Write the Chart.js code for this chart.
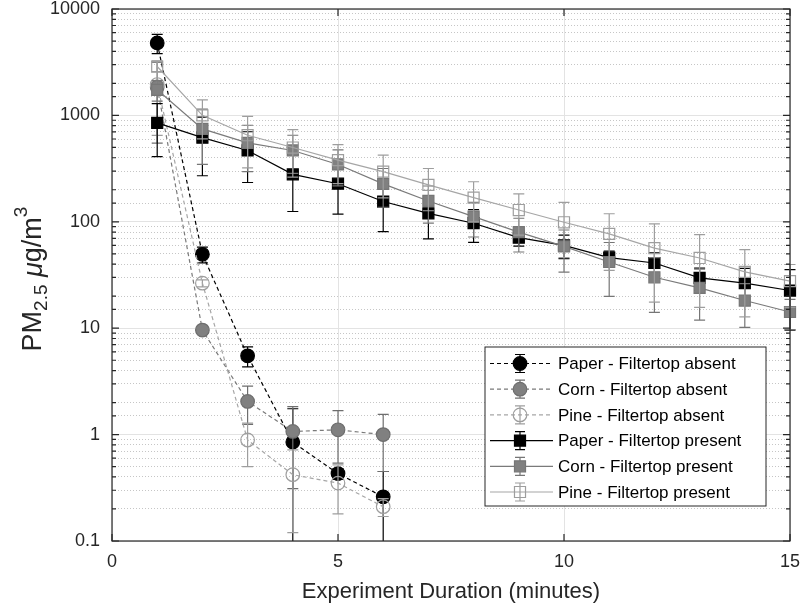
<!DOCTYPE html>
<html>
<head>
<meta charset="utf-8">
<script src="https://cdn.jsdelivr.net/npm/chart.js@4.4.1/dist/chart.umd.min.js"></script>
<style>
  html, body { margin: 0; padding: 0; background: #fff; }
</style>
</head>
<body>
<canvas id="pmChart" width="800" height="606"></canvas>
<script>
// Experiment duration (minutes)
var minutesAbsent = [1, 2, 3, 4, 5, 6];
var minutesPresent = [1, 2, 3, 4, 5, 6, 7, 8, 9, 10, 11, 12, 13, 14, 15];

// PM2.5 (ug/m3) means and standard deviations, filtertop absent
var paperAbsent   = [4800, 49.5, 5.5, 0.85, 0.43, 0.26];
var paperAbsentSd = [985, 8.4, 1.17, 0.9, 0.05, 0.19];
var cornAbsent    = [1850, 9.6, 2.05, 1.07, 1.11, 1.0];
var cornAbsentSd  = [1300, 0.6, 0.8, 0.76, 0.57, 0.55];
var pineAbsent    = [1950, 26.5, 0.89, 0.42, 0.35, 0.21];
var pineAbsentSd  = [1300, 2.0, 0.39, 0.30, 0.17, 0.04];

// filtertop present
var paperPresent   = [850, 618, 468, 279, 228, 155, 120, 97, 71, 60, 46, 41, 29.7, 26.5, 22.6];
var paperPresentSd = [440, 347, 234, 154, 110, 74, 51, 33, 12, 15, 7, 10, 7, 10, 13];
var cornPresent    = [1740, 746, 552, 468, 346, 227, 157, 112, 80, 58.7, 41.9, 30.1, 23.9, 18.2, 14.2];
var cornPresentSd  = [380, 400, 256, 183, 128, 90, 60, 40, 28, 25, 22, 16, 12, 8, 4.5];
var pinePresent    = [2880, 1002, 651, 499, 380, 296, 222, 169, 129, 99, 77, 56.6, 45.7, 33.8, 27.7];
var pinePresentSd  = [300, 400, 330, 236, 152, 128, 95, 69, 54, 53, 42, 39, 30, 21, 12];

var seriesNames = [
  'Paper - Filtertop absent', 'Corn - Filtertop absent', 'Pine - Filtertop absent',
  'Paper - Filtertop present', 'Corn - Filtertop present', 'Pine - Filtertop present'
];

// tick labels
var yTickLabels = [0.1, 1, 10, 100, 1000, 10000];
var xTickLabels = [0, 5, 10, 15];

var fontFam = '"Liberation Sans", Arial, Helvetica, sans-serif';
var axisColor = '#262626';

function isDecade(v) {
  return yTickLabels.some(function (d) { return Math.abs(v - d) / d < 1e-6; });
}

function toPoints(xs, ys) {
  return xs.map(function (x, i) { return { x: x, y: ys[i] }; });
}

function makeSeries(idx, xs, ys, sd, style) {
  return {
    label: seriesNames[idx],
    data: toPoints(xs, ys),
    errors: sd,
    errorColor: style.edge,
    borderColor: style.line,
    borderWidth: 1.2,
    borderDash: style.dash,
    backgroundColor: style.fill,
    pointStyle: style.marker,
    pointRadius: style.marker === 'rect' ? 7.8 : 6.8,
    pointBackgroundColor: style.fill,
    pointBorderColor: style.edge,
    pointBorderWidth: 1.2,
    tension: 0,
    clip: false,
    order: 5 - idx
  };
}

var DASH = [4, 3];
var datasets = [
  makeSeries(0, minutesAbsent, paperAbsent, paperAbsentSd, { line: '#000000', edge: '#000000', fill: '#000000', marker: 'circle', dash: DASH }),
  makeSeries(1, minutesAbsent, cornAbsent, cornAbsentSd, { line: '#7a7a7a', edge: '#6e6e6e', fill: '#808080', marker: 'circle', dash: DASH }),
  makeSeries(2, minutesAbsent, pineAbsent, pineAbsentSd, { line: '#a6a6a6', edge: '#9e9e9e', fill: 'rgba(255,255,255,0)', marker: 'circle', dash: DASH }),
  makeSeries(3, minutesPresent, paperPresent, paperPresentSd, { line: '#000000', edge: '#000000', fill: '#000000', marker: 'rect', dash: [] }),
  makeSeries(4, minutesPresent, cornPresent, cornPresentSd, { line: '#7a7a7a', edge: '#767676', fill: '#808080', marker: 'rect', dash: [] }),
  makeSeries(5, minutesPresent, pinePresent, pinePresentSd, { line: '#a6a6a6', edge: '#9e9e9e', fill: 'rgba(255,255,255,0)', marker: 'rect', dash: [] })
];

// error bars, drawn under each series' own line and markers
var errorBars = {
  id: 'errorBars',
  beforeDatasetDraw: function (chart, args) {
    var ds = chart.data.datasets[args.index];
    var ys = chart.scales.y, area = chart.chartArea, ctx = chart.ctx;
    var cap = 5.5;
    ctx.save();
    ctx.beginPath();
    ctx.rect(area.left - 20, area.top, area.right - area.left + 40, area.bottom - area.top);
    ctx.clip();
    ctx.strokeStyle = ds.errorColor;
    ctx.lineWidth = 1.2;
    ctx.setLineDash([]);
    args.meta.data.forEach(function (pt, i) {
      var v = ds.data[i].y, e = ds.errors[i];
      var top = ys.getPixelForValue(v + e);
      var hasLow = v - e > 0;
      var bot = hasLow ? ys.getPixelForValue(v - e) : area.bottom + 5;
      ctx.beginPath();
      ctx.moveTo(pt.x, top); ctx.lineTo(pt.x, bot);
      ctx.moveTo(pt.x - cap, top); ctx.lineTo(pt.x + cap, top);
      if (hasLow) { ctx.moveTo(pt.x - cap, bot); ctx.lineTo(pt.x + cap, bot); }
      ctx.stroke();
    });
    ctx.restore();
  }
};

function drawMarker(ctx, ds, x, y) {
  ctx.save();
  ctx.fillStyle = ds.pointBackgroundColor;
  ctx.strokeStyle = ds.pointBorderColor;
  ctx.lineWidth = ds.pointBorderWidth;
  ctx.setLineDash([]);
  ctx.beginPath();
  if (ds.pointStyle === 'rect') {
    var s = Math.SQRT1_2 * ds.pointRadius;
    ctx.rect(x - s, y - s, 2 * s, 2 * s);
  } else {
    ctx.arc(x, y, ds.pointRadius, 0, Math.PI * 2);
  }
  ctx.fill();
  ctx.stroke();
  ctx.restore();
}

// axes box, inward ticks, legend and axis titles
var decorations = {
  id: 'decorations',
  afterDraw: function (chart) {
    var ctx = chart.ctx, a = chart.chartArea;
    var xs = chart.scales.x, ys = chart.scales.y;

    ctx.save();
    ctx.strokeStyle = axisColor;
    ctx.lineWidth = 1.2;
    ctx.setLineDash([]);
    ctx.strokeRect(a.left, a.top, a.right - a.left, a.bottom - a.top);
    ctx.beginPath();
    ys.ticks.forEach(function (t) {
      var py = ys.getPixelForValue(t.value);
      var len = isDecade(t.value) ? 7 : 4;
      ctx.moveTo(a.left, py); ctx.lineTo(a.left + len, py);
      ctx.moveTo(a.right, py); ctx.lineTo(a.right - len, py);
    });
    xs.ticks.forEach(function (t) {
      var px = xs.getPixelForValue(t.value);
      ctx.moveTo(px, a.bottom); ctx.lineTo(px, a.bottom - 7);
      ctx.moveTo(px, a.top); ctx.lineTo(px, a.top + 7);
    });
    ctx.stroke();
    ctx.restore();

    // legend
    var box = { left: a.right - 305, right: a.right - 24, top: a.bottom - 194, bottom: a.bottom - 35 };
    ctx.save();
    ctx.fillStyle = '#ffffff';
    ctx.fillRect(box.left, box.top, box.right - box.left, box.bottom - box.top);
    ctx.strokeStyle = axisColor;
    ctx.lineWidth = 1;
    ctx.strokeRect(box.left, box.top, box.right - box.left, box.bottom - box.top);
    ctx.font = '17px ' + fontFam;
    ctx.textBaseline = 'middle';
    ctx.textAlign = 'left';
    chart.data.datasets.forEach(function (ds, i) {
      var y = box.top + 16.5 + i * 25.7;
      var mx = box.left + 35;
      ctx.strokeStyle = ds.borderColor;
      ctx.lineWidth = ds.borderWidth;
      ctx.setLineDash(ds.borderDash);
      ctx.beginPath();
      ctx.moveTo(box.left + 5, y); ctx.lineTo(box.left + 68, y);
      ctx.stroke();
      ctx.setLineDash([]);
      ctx.strokeStyle = ds.errorColor;
      ctx.beginPath();
      ctx.moveTo(mx, y - 9); ctx.lineTo(mx, y + 9);
      ctx.moveTo(mx - 5, y - 9); ctx.lineTo(mx + 5, y - 9);
      ctx.moveTo(mx - 5, y + 9); ctx.lineTo(mx + 5, y + 9);
      ctx.stroke();
      drawMarker(ctx, ds, mx, y);
      ctx.fillStyle = '#000000';
      ctx.fillText(ds.label, box.left + 73, y + 1);
    });
    ctx.restore();

    // x title
    ctx.save();
    ctx.fillStyle = axisColor;
    ctx.font = '22px ' + fontFam;
    ctx.textAlign = 'center';
    ctx.textBaseline = 'middle';
    ctx.fillText('Experiment Duration (minutes)', (a.left + a.right) / 2, 592);
    ctx.restore();

    // y title with subscript / superscript
    var parts = [
      { t: 'PM', f: '27px ' + fontFam, dy: 0 },
      { t: '2.5', f: '19px ' + fontFam, dy: 8 },
      { t: ' ', f: '27px ' + fontFam, dy: 0 },
      { t: '\u03bc', f: 'italic 27px ' + fontFam, dy: 0 },
      { t: 'g/m', f: '27px ' + fontFam, dy: 0 },
      { t: '3', f: '19px ' + fontFam, dy: -12 }
    ];
    ctx.save();
    var total = 0;
    parts.forEach(function (p) { ctx.font = p.f; p.w = ctx.measureText(p.t).width; total += p.w; });
    ctx.translate(34, (a.top + a.bottom) / 2 + 4);
    ctx.rotate(-Math.PI / 2);
    ctx.fillStyle = axisColor;
    ctx.textBaseline = 'middle';
    ctx.textAlign = 'left';
    var cx = -total / 2;
    parts.forEach(function (p) {
      ctx.font = p.f;
      ctx.fillText(p.t, cx, p.dy);
      cx += p.w;
    });
    ctx.restore();
  }
};

new Chart(document.getElementById('pmChart').getContext('2d'), {
  type: 'line',
  data: { datasets: datasets },
  options: {
    responsive: false,
    animation: false,
    devicePixelRatio: 1,
    layout: { padding: { top: 7, right: 10, left: 0, bottom: 0 } },
    plugins: { legend: { display: false }, tooltip: { enabled: false } },
    scales: {
      x: {
        type: 'linear',
        min: 0,
        max: 15,
        afterFit: function (scale) {
          scale.height = 65;
          scale.paddingLeft = 0;
          scale.paddingRight = 0;
        },
        afterBuildTicks: function (scale) {
          scale.ticks = xTickLabels.map(function (v) { return { value: v }; });
        },
        ticks: {
          color: axisColor,
          padding: 10,
          font: { family: fontFam, size: 18 },
          maxRotation: 0
        },
        grid: { color: '#e3e3e3', lineWidth: 1, drawTicks: false },
        border: { display: false }
      },
      y: {
        type: 'logarithmic',
        min: 0.1,
        max: 10000,
        afterFit: function (scale) {
          scale.width = 112;
          scale.paddingTop = 0;
          scale.paddingBottom = 0;
        },
        ticks: {
          autoSkip: false,
          color: axisColor,
          padding: 12,
          font: { family: fontFam, size: 18 },
          callback: function (v) { return isDecade(v) ? String(+v.toPrecision(6)) : ''; }
        },
        grid: {
          drawTicks: false,
          lineWidth: 1,
          color: function (c) { return c.tick && isDecade(c.tick.value) ? '#e3e3e3' : '#c6c6c6'; }
        },
        border: {
          display: false,
          dash: function (c) { return c.tick && isDecade(c.tick.value) ? [] : [1, 2]; }
        }
      }
    }
  },
  plugins: [errorBars, decorations]
});
</script>
</body>
</html>
